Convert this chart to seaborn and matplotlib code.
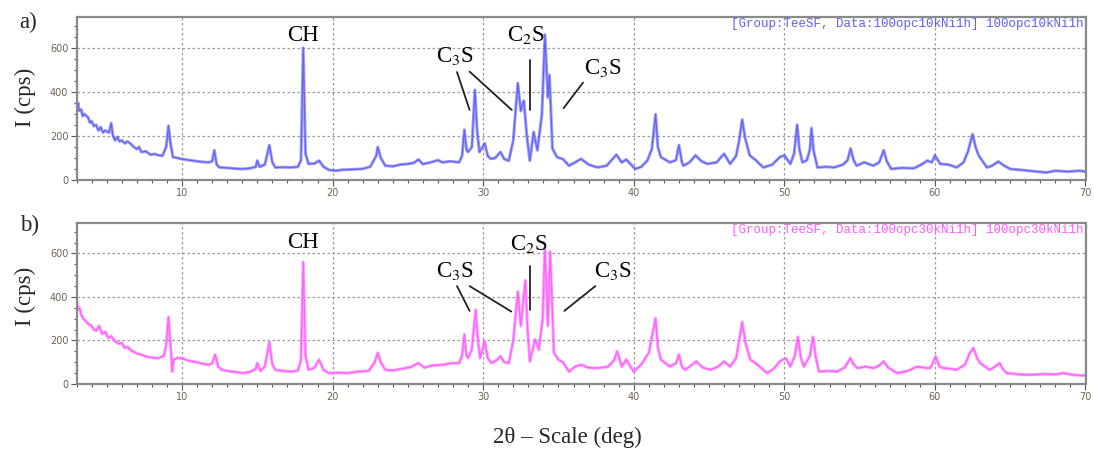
import matplotlib
matplotlib.use("Agg")
import matplotlib.pyplot as plt
import seaborn as sns
import pandas as pd
from matplotlib.ticker import MultipleLocator

# ---------------- data ----------------
top_2theta = [3.0, 3.1, 3.15, 3.3, 3.4, 3.5, 3.75, 3.9, 4.0, 4.15, 4.3, 4.45, 4.6, 4.75, 4.9, 5.15, 5.3, 5.4, 5.55,
              5.7, 5.85, 6.0, 6.2, 6.35, 6.5, 6.8, 7.0, 7.15, 7.3, 7.6, 7.9, 8.2, 8.45, 8.7, 8.95, 9.1, 9.25, 9.4,
              9.7, 10.0, 10.3, 10.65, 11.0, 11.4, 11.8, 12.0, 12.15, 12.3,
              12.5, 13.0, 13.5, 14.0, 14.5, 14.9, 15.0, 15.15, 15.5, 15.8, 16.0, 16.2, 16.7, 17.3, 17.7, 17.9, 18.05,
              18.2, 18.4, 18.8, 19.1, 19.4, 19.75, 20.2, 20.6, 21.2, 21.95, 22.5, 22.9, 23.0, 23.2, 23.5, 24.0, 24.5,
              25.0, 25.4, 25.7, 26.0, 26.5, 27.0, 27.3, 27.8, 28.4, 28.6, 28.75, 28.9, 29.0, 29.25, 29.45, 29.6, 29.75,
              30.1, 30.3, 30.5, 30.8, 31.15, 31.4, 31.7, 32.0, 32.3, 32.5, 32.7, 32.9, 33.1, 33.35, 33.6, 33.9, 34.1,
              34.3, 34.4, 34.6, 34.9, 35.3, 35.7, 36.1, 36.5, 37.0, 37.6, 38.2, 38.85, 39.2, 39.5, 40.1, 40.5, 40.9,
              41.2, 41.45, 41.6, 41.8, 42.4, 42.8, 43.0, 43.2, 43.3, 43.7, 44.1, 44.5, 44.9, 45.5, 46.0, 46.4, 46.8,
              47.0, 47.2, 47.4, 47.7, 48.1, 48.6, 49.2, 49.7, 50.0, 50.4, 50.65, 50.85, 51.0, 51.2, 51.5, 51.7, 51.8,
              51.95, 52.2, 52.8, 53.3, 53.9, 54.2, 54.4, 54.6, 54.8, 55.3, 55.9, 56.3, 56.6, 56.8, 57.1, 57.8, 58.6,
              59.1, 59.5, 59.8, 60.0, 60.35, 60.9, 61.45, 61.9, 62.2, 62.5, 62.7, 62.9, 63.45, 63.8, 64.2, 64.6, 65.0,
              65.8, 66.5, 67.4, 68.0, 68.8, 69.6, 70.0]
top_cps = [330, 350, 315, 320, 290, 300, 285, 260, 267, 245, 250, 225, 240, 215, 225, 215, 258, 205, 180,
           195, 175, 180, 166, 175, 170, 150, 140, 150, 127, 130, 115, 118, 112, 110, 150, 246, 160, 104,
           100, 95, 92, 88, 85, 82, 80, 85, 135, 70,
           57, 55, 52, 50, 53, 60, 88, 60, 70, 158, 80, 57, 58, 57, 60, 90, 600,
           120, 73, 75, 88, 60, 46, 42, 46, 48, 50, 60, 110, 150, 100, 65, 62, 70,
           73, 78, 93, 72, 80, 90, 80, 85, 80, 110, 228, 135, 127, 150, 409, 220, 127,
           166, 110, 96, 100, 127, 95, 88, 180, 440, 313, 360, 200, 88, 217, 135, 298, 660,
           375, 476, 143, 104, 95, 65, 80, 96, 70, 57, 65, 115, 80, 93, 50, 60, 88,
           140, 298, 150, 104, 80, 90, 158, 80, 65, 80, 112, 85, 73, 80, 119, 73, 110,
           180, 274, 190, 112, 90, 57, 70, 104, 112, 73, 120, 251, 140, 80, 90, 140, 236,
           130, 57, 60, 57, 70, 90, 143, 90, 65, 80, 65, 80, 135, 85, 50, 55, 53,
           70, 88, 80, 112, 73, 70, 57, 80, 130, 208, 150, 112, 57, 65, 84, 65, 50,
           45, 40, 34, 42, 38, 42, 38]

bottom_2theta = [3.0, 3.1, 3.2, 3.3, 3.45, 3.6, 3.8, 4.0, 4.15, 4.3, 4.5, 4.7, 4.9, 5.1, 5.3, 5.5, 5.8, 6.0, 6.2, 6.4,
                 6.6, 7.0, 7.3, 7.7, 8.1, 8.45, 8.8,
                 8.95, 9.1, 9.25, 9.35, 9.45, 9.7, 10.0, 10.3, 10.65, 11.0, 11.4, 11.8, 12.0, 12.2, 12.4, 12.65,
                 13.2, 13.6, 14.0, 14.5, 14.9, 15.0, 15.2, 15.5, 15.8, 16.0, 16.2, 16.7, 17.3, 17.7, 17.9, 18.05,
                 18.2, 18.4, 18.8, 19.1, 19.4, 19.75, 20.3, 21.0, 21.7, 22.4, 22.8, 23.0, 23.2, 23.5, 24.0, 24.6,
                 25.2, 25.7, 26.1, 26.6, 27.3, 27.8, 28.4, 28.6, 28.75, 28.9, 29.0, 29.25, 29.5, 29.65, 29.8, 30.1,
                 30.3, 30.55, 30.9, 31.15, 31.4, 31.7, 32.0, 32.3, 32.5, 32.8, 32.95, 33.1, 33.45, 33.7, 33.95,
                 34.1, 34.3, 34.45, 34.7, 35.0, 35.3, 35.7, 36.1, 36.5, 37.0, 37.6, 38.3, 38.7, 38.9, 39.2, 39.5,
                 40.0, 40.5, 41.0, 41.45, 41.6, 41.8, 42.4, 42.8, 43.0, 43.2, 43.4, 43.8, 44.15, 44.6, 45.1, 45.6,
                 46.0, 46.4, 46.8, 47.0, 47.2, 47.45, 47.75, 48.2, 48.85, 49.3, 49.7, 50.1, 50.4, 50.7, 50.9, 51.1,
                 51.3, 51.7, 51.9, 52.1, 52.3, 52.9, 53.5, 54.0, 54.4, 54.6, 54.85, 55.4, 55.95, 56.3, 56.6, 56.9,
                 57.5, 58.2, 58.8, 59.3, 59.7, 60.05, 60.3, 60.55, 61.0, 61.45, 62.0, 62.3, 62.55, 62.8, 63.0,
                 63.65, 64.0, 64.3, 64.5, 64.75, 65.5, 66.3, 67.2, 68.0, 68.5, 69.2, 69.8, 70.0]
bottom_cps = [385, 340, 350, 320, 300, 290, 275, 267, 250, 245, 267, 230, 240, 212, 220, 200, 185, 190, 166, 170,
              155, 140, 135, 125, 120, 119, 130,
              180, 308, 170, 57, 112, 120, 119, 110, 104, 100, 92, 88, 95, 135, 80, 65,
              58, 55, 50, 55, 70, 96, 60, 80, 192, 90, 65, 60, 57, 62, 110, 561,
              130, 65, 75, 112, 65, 50, 52, 50, 57, 60, 100, 143, 100, 65, 62, 70,
              78, 96, 75, 85, 88, 95, 96, 130, 228, 130, 119, 160, 341, 200, 119, 197,
              120, 96, 110, 127, 100, 96, 200, 425, 267, 476, 250, 104, 205, 158, 298,
              630, 267, 608, 143, 112, 100, 57, 80, 88, 75, 73, 80, 110, 150, 80, 112,
              57, 90, 143, 302, 170, 112, 80, 95, 135, 80, 65, 85, 104, 75, 65, 80,
              104, 80, 120, 200, 285, 180, 112, 90, 50, 70, 104, 119, 80, 130, 217, 120,
              80, 130, 217, 120, 57, 60, 57, 75, 119, 90, 73, 80, 73, 85, 104, 75,
              50, 60, 80, 75, 73, 127, 80, 73, 70, 65, 90, 140, 166, 120, 96,
              65, 80, 96, 70, 50, 45, 42, 46, 44, 50, 42, 39, 40]

x_ticks = [10, 20, 30, 40, 50, 60, 70]
y_ticks = [0, 200, 400, 600]
panel_labels = ["a)", "b)"]
legend_texts = ["[Group:TeeSF, Data:100opc10kNi1h] 100opc10kNi1h",
                "[Group:TeeSF, Data:100opc30kNi1h] 100opc30kNi1h"]
series_colors = ["#5f5ff5", "#ff5cff"]

# annotation labels: (text, x, y) per panel
annot_top = [("CH", 18.03, 657), ("C$_3$S", 28.1, 563), ("C$_2$S", 32.86, 659), ("C$_3$S", 37.98, 507)]
annot_bot = [("CH", 18.03, 652), ("C$_3$S", 28.1, 518), ("C$_2$S", 33.04, 643), ("C$_3$S", 38.6, 518)]
lines_top = [((28.26, 29.1), (490, 318)), ((29.1, 31.9), (492, 318)), ((33.13, 33.13), (545, 318)),
             ((36.63, 35.34), (442, 326))]
lines_bot = [((28.26, 29.1), (450, 336)), ((29.1, 31.87), (450, 333)), ((33.13, 33.13), (541, 341)),
             ((37.45, 35.39), (450, 336))]

# ---------------- figure ----------------
sns.set_theme(style="white")
plt.rcParams["font.family"] = ["DejaVu Sans"]
plt.rcParams["mathtext.fontset"] = "stix"

W, H = 1094, 450
fig = plt.figure(figsize=(W / 100, H / 100), dpi=100)
fig.patch.set_facecolor("white")

left = 76.6 / W
width = (1085.5 - 76.6) / W
ax_top = fig.add_axes([left, 1 - 180 / H, width, (180 - 17) / H])
ax_bot = fig.add_axes([left, 1 - 384 / H, width, (384 - 223) / H])

datasets = [(top_2theta, top_cps), (bottom_2theta, bottom_cps)]
annots = [annot_top, annot_bot]
alines = [lines_top, lines_bot]
tick_color = "#6e6250"
serif = ["Liberation Serif", "DejaVu Serif"]

for i, ax in enumerate([ax_top, ax_bot]):
    xs, ys = datasets[i]
    df = pd.DataFrame({"2theta": xs, "cps": ys})
    sns.lineplot(data=df, x="2theta", y="cps", ax=ax, color=series_colors[i],
                 linewidth=2.2, alpha=0.6, estimator=None, sort=False)
    sns.lineplot(data=df, x="2theta", y="cps", ax=ax, color=series_colors[i],
                 linewidth=0.9, alpha=0.9, estimator=None, sort=False)
    ax.set_xlim(3, 70)
    ax.set_ylim(0, 740)
    ax.set_xlabel("")
    ax.set_ylabel("")
    ax.set_xticks(x_ticks)
    ax.set_yticks(y_ticks)
    ax.xaxis.set_minor_locator(MultipleLocator(1))
    ax.yaxis.set_minor_locator(MultipleLocator(50))
    ax.tick_params(axis="both", which="major", direction="out", length=4, width=0.8,
                   color="#555555", labelsize=7, labelcolor=tick_color, pad=2)
    ax.tick_params(axis="both", which="minor", direction="out", length=2.5, width=0.8,
                   color="#555555")
    ax.tick_params(bottom=True, left=True, which="both")
    ax.grid(True, which="major", color="#9a9a9a", linestyle=(0, (2, 2)), linewidth=0.9)
    for s in ax.spines.values():
        s.set_color("#8a8a8a")
        s.set_linewidth(1.6)
    ax.set_facecolor("white")
    ax.text(0.998, 0.955, legend_texts[i], transform=ax.transAxes, ha="right", va="center",
            fontsize=9, color=series_colors[i], family=["Liberation Mono", "DejaVu Sans Mono"])
    for (t, x, y) in annots[i]:
        ax.text(x, y, t, ha="center", va="center", fontsize=16.5, color="black", family=serif)
    for (lx, ly) in alines[i]:
        ax.plot(lx, ly, color="#222222", linewidth=1.3)

fig.text(28 / W, 1 - 22 / H, panel_labels[0], ha="center", va="center", fontsize=16.5, family=serif)
fig.text(30 / W, 1 - 225 / H, panel_labels[1], ha="center", va="center", fontsize=16.5, family=serif)
fig.text(25 / W, 1 - 97 / H, "I (cps)", rotation=90, ha="center", va="center", fontsize=16.5, family=serif)
fig.text(25 / W, 1 - 296 / H, "I (cps)", rotation=90, ha="center", va="center", fontsize=16.5, family=serif)
fig.text(567 / W, 1 - 437 / H, "2θ – Scale (deg)", ha="center", va="center", fontsize=16.5, family=serif)

fig.savefig("out.png", dpi=100, facecolor="white")
